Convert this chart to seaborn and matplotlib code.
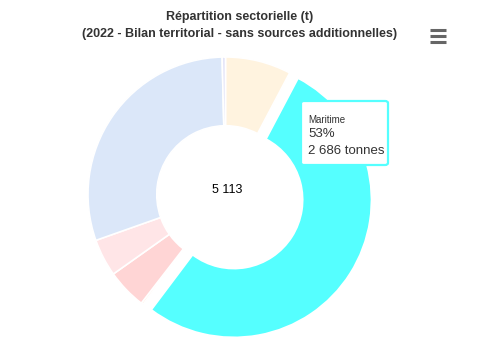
import numpy as np
import matplotlib
matplotlib.use("Agg")
import matplotlib.pyplot as plt
from matplotlib.patches import FancyBboxPatch
import seaborn as sns

# data (clockwise from the top)
secteurs = ["Industrie", "Maritime", "Agriculture", "Résidentiel", "Tertiaire",
            "Transport routier", "Autres"]
tonnes = [395, 2686, 12, 240, 225, 1535, 20]
couleurs = ["#fff3df", "#55ffff", "#ffe4cc", "#ffd5d5", "#ffe5e7", "#dbe7f9", "#e4e4f8"]
survol = "Maritime"

sns.set_theme(style="white")
plt.rcParams['font.family'] = ['Liberation Sans', 'DejaVu Sans']

W, H = 480, 354
fig = plt.figure(figsize=(W / 100, H / 100), dpi=100)
ax = fig.add_axes([0, 0, 1, 1])

cx, cy, R = 225.5, 194.5, 137.5  # pixel centre / radius

explode = [10 / R if s == survol else 0 for s in secteurs]
ax.pie(tonnes, colors=couleurs, startangle=90, counterclock=False, radius=1,
       explode=explode,
       wedgeprops=dict(width=0.5, edgecolor='white', linewidth=1.2, joinstyle='round'))

# pie() resets the limits, so set them afterwards
ax.set_xlim(-cx / R, (W - cx) / R)
ax.set_ylim(-(H - cy) / R, cy / R)
ax.set_aspect('equal')
ax.axis('off')

total = sum(tonnes)
ax.text(1.5 / R, 4 / R, f"{total:,}".replace(",", " "), ha='center', va='center',
        fontsize=9, color='black')

# title
fig.text(240 / W, 1 - 17 / H, "Répartition sectorielle (t)", ha='center', va='center',
         fontsize=9, fontweight='bold', color='#333333')
fig.text(240 / W, 1 - 34 / H, "(2022 - Bilan territorial - sans sources additionnelles)",
         ha='center', va='center', fontsize=9, fontweight='bold', color='#333333')

# menu icon
for yy in (30, 36, 42):
    fig.add_artist(plt.Line2D([430 / W, 446 / W], [1 - yy / H, 1 - yy / H],
                              color='#666666', linewidth=2.2, solid_capstyle='butt'))

# tooltip
i = secteurs.index(survol)
pct = round(100 * tonnes[i] / total)
box = FancyBboxPatch((301 / W, 1 - 165 / H), 87 / W, 64 / H,
                     boxstyle="round,pad=0,rounding_size=0.006",
                     transform=fig.transFigure, facecolor='white',
                     edgecolor=couleurs[i], linewidth=1.6)
fig.add_artist(box)
fig.text(308 / W, 1 - 120 / H, survol, ha='left', va='center', fontsize=7, color='#333333')
fig.text(308 / W, 1 - 134 / H, f"{pct}%", ha='left', va='center', fontsize=9.5, color='#333333')
fig.text(308 / W, 1 - 151 / H, f"{tonnes[i]:,} tonnes".replace(",", " "), ha='left',
         va='center', fontsize=9.5, color='#333333')

fig.savefig("out.png", dpi=100)
